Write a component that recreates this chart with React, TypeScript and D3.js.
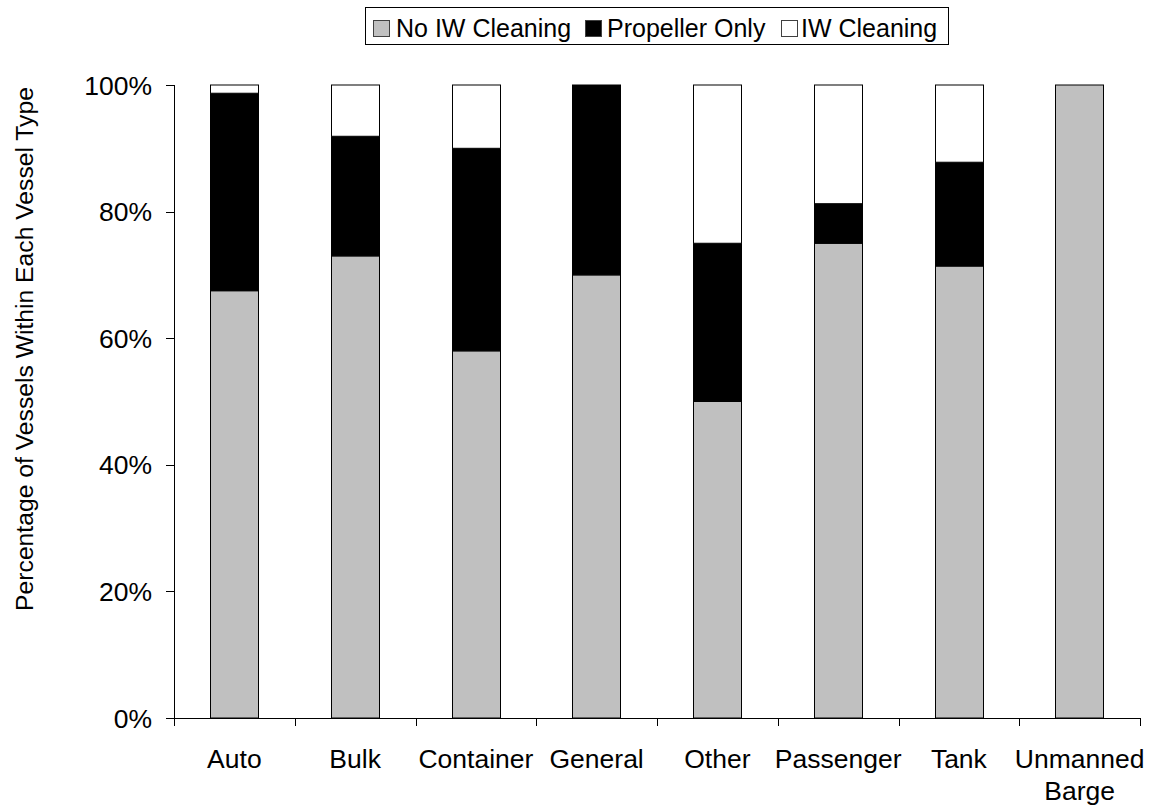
import React from "react";
import * as d3 from "d3";

const categories = ["Auto", "Bulk", "Container", "General", "Other", "Passenger", "Tank", "Unmanned Barge"];
const noIWCleaning = [67.5, 73.0, 58.0, 70.0, 50.0, 75.0, 71.4, 100];
const propellerOnly = [31.2, 18.9, 32.0, 30.0, 25.0, 6.25, 16.4, 0];
const iwCleaning = [1.3, 8.1, 10.0, 0, 25.0, 18.75, 12.2, 0];
const seriesNames = ["No IW Cleaning", "Propeller Only", "IW Cleaning"];
const seriesColors = ["#C0C0C0", "#000000", "#FFFFFF"];
const yTicks = [0, 20, 40, 60, 80, 100];

const W = 1154;
const H = 809;
const left = 174;
const right = 1140;
const top = 85;
const bottom = 718;
const FONT = "'Liberation Sans', Arial, sans-serif";

export default function App() {
  const x = d3.scaleBand<string>().domain(categories).range([left, right]).padding(0);
  const y = d3.scaleLinear().domain([0, 100]).range([bottom, top]);
  const step = x.step();
  const barW = step * 0.4;

  const rows = categories.map((c, i) => ({
    cat: c,
    s0: noIWCleaning[i],
    s1: propellerOnly[i],
    s2: iwCleaning[i],
  }));
  const stack = d3.stack<any>().keys(["s0", "s1", "s2"]);
  const layers = stack(rows);

  const legendItems = [
    { sx: 373, tx: 396 },
    { sx: 585, tx: 607 },
    { sx: 781, tx: 801 },
  ];

  return (
    <svg
      width={W}
      height={H}
      style={{ position: "absolute", left: 0, top: 0, background: "#fff" }}
      fontFamily={FONT}
    >
      <rect x={0} y={0} width={W} height={H} fill="#fff" />
      {/* bars */}
      {layers.map((layer, li) => (
        <g key={li}>
          {layer.map((d, i) => {
            const h = y(d[0]) - y(d[1]);
            if (h <= 0.01) return null;
            const bx = Math.round((x(categories[i]) as number) + step * 0.3) + 0.5;
            return (
              <rect
                key={i}
                x={bx}
                y={y(d[1])}
                width={Math.round(barW)}
                height={h}
                fill={seriesColors[li]}
                stroke="#000"
                strokeWidth={1}
              />
            );
          })}
        </g>
      ))}
      {/* y axis */}
      <line x1={left + 0.5} x2={left + 0.5} y1={top} y2={bottom} stroke="#000" strokeWidth={1} />
      {yTicks.map((t) => (
        <g key={t}>
          <line x1={166} x2={left} y1={Math.round(y(t)) + 0.5} y2={Math.round(y(t)) + 0.5} stroke="#000" strokeWidth={1} />
          <text x={152} y={y(t) + 9.5} textAnchor="end" fontSize={26.5} fill="#000">
            {t + "%"}
          </text>
        </g>
      ))}
      {/* x axis */}
      <line x1={left} x2={right + 0.5} y1={bottom + 0.5} y2={bottom + 0.5} stroke="#000" strokeWidth={1} />
      {[...categories.map((c) => x(c) as number), right].map((v, i) => (
        <line key={i} x1={Math.round(v) + 0.5} x2={Math.round(v) + 0.5} y1={bottom} y2={bottom + 8} stroke="#000" strokeWidth={1} />
      ))}
      {categories.map((c) => {
        const cx = (x(c) as number) + step / 2;
        const parts = c === "Unmanned Barge" ? ["Unmanned", "Barge"] : [c];
        return (
          <text key={c} x={cx} y={767.5} textAnchor="middle" fontSize={26.5} fill="#000">
            {parts.map((p, k) => (
              <tspan key={k} x={cx} dy={k === 0 ? 0 : 32.5}>
                {p}
              </tspan>
            ))}
          </text>
        );
      })}
      {/* y label */}
      <text
        transform={`translate(33,349) rotate(-90)`}
        textAnchor="middle"
        fontSize={24.7}
        fill="#000"
      >
        Percentage of Vessels Within Each Vessel Type
      </text>
      {/* legend */}
      <rect x={365.5} y={7.5} width={583} height={37} fill="#fff" stroke="#000" strokeWidth={1} />
      {seriesNames.map((n, i) => (
        <g key={n}>
          <rect x={legendItems[i].sx + 0.5} y={20.5} width={16} height={16} fill={seriesColors[i]} stroke="#404040" strokeWidth={1} />
          <text x={legendItems[i].tx} y={36.5} fontSize={25} fill="#000">
            {n}
          </text>
        </g>
      ))}
    </svg>
  );
}
